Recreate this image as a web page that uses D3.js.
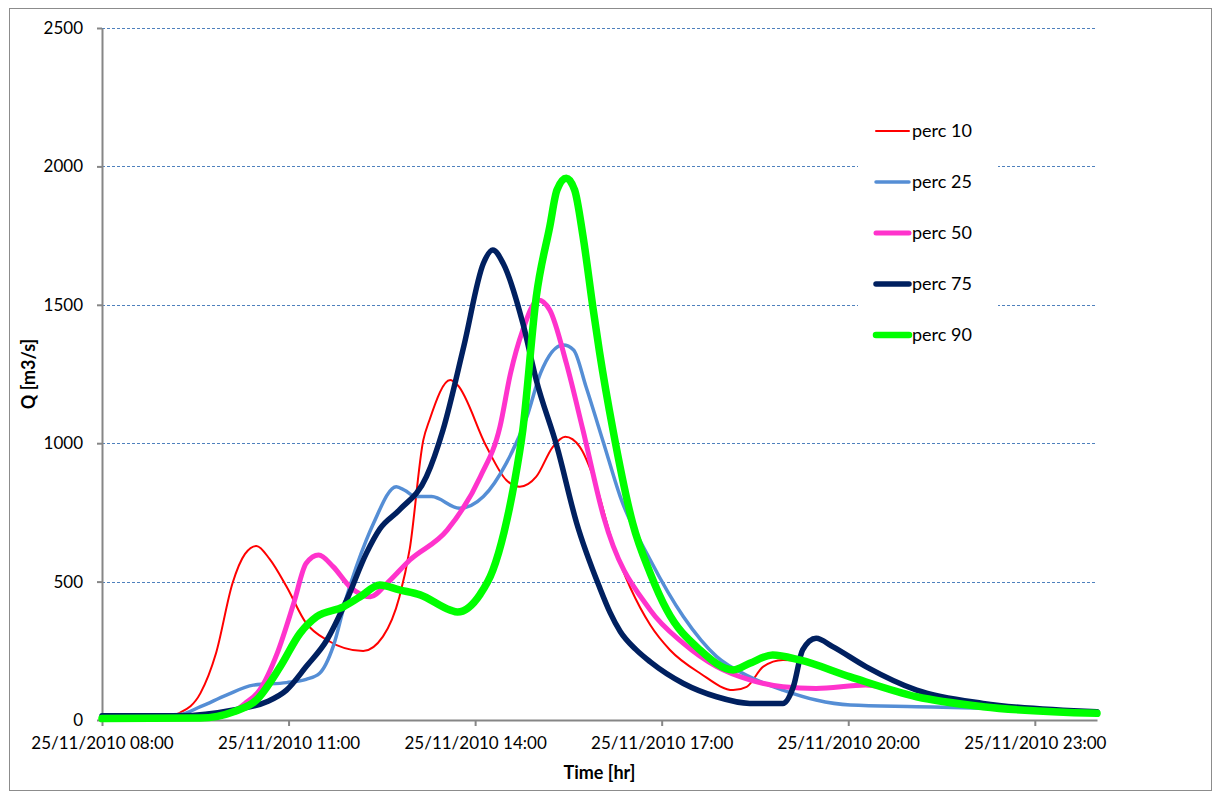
<!DOCTYPE html>
<html lang="en">

<head>
    <meta charset="UTF-8">
    <script src="https://d3js.org/d3.v7.min.js"></script>
    <title>Q percentiles</title>
    <style>
        body { margin: 0; background: #fff; }
        text { font-family: Lato, "Open Sans", sans-serif; fill: #000; }
    </style>
</head>

<body>
    <div id="viz"></div>

    <script>
        // hydrograph percentiles, 25/11/2010 (times as HH:MM)
        const seriesNames = ["perc 10", "perc 25", "perc 50", "perc 75", "perc 90"]

        const p10Times = ["08:00","09:05","09:15","09:35","09:50","10:06","10:18","10:29","10:42","10:58","11:17","11:37","12:12","12:31","12:47","12:57","13:10","13:16","13:36","13:43","14:11","14:30","14:43","14:59","15:15","15:27","15:41","15:54","16:13","16:49","17:08","17:37","18:09","18:22","18:38","18:57","19:13","20:02","21:06","22:10","24:00"]
        const p10Values = [15,15,26,97,241,495,600,629,580,482,350,289,249,301,445,620,1011,1084,1228,1210,987,867,843,879,987,1023,987,879,638,343,253,169,108,120,193,217,212,156,84,48,25]

        const p25Times = ["08:00","09:15","09:35","10:00","10:26","10:58","11:17","11:30","11:43","11:56","12:15","12:22","12:44","12:52","13:03","13:18","13:45","14:08","14:30","14:50","15:03","15:25","15:35","15:47","16:04","16:20","16:49","17:21","17:53","18:25","18:57","19:29","20:02","21:06","22:10","24:00"]
        const p25Values = [15,20,48,90,126,135,147,169,265,445,650,711,843,830,807,807,765,807,927,1096,1252,1355,1337,1204,1000,807,578,373,229,156,108,72,54,48,42,30]

        const p50Times = ["08:00","10:00","10:18","10:32","10:49","11:05","11:17","11:29","11:43","11:59","12:19","12:35","12:57","13:33","14:05","14:24","14:34","14:46","15:01","15:12","15:28","15:44","16:04","16:49","17:21","17:53","18:25","18:57","19:29","20:17","21:06","22:10","24:00"]
        const p50Values = [8,20,60,108,241,422,566,596,554,482,445,494,578,686,879,1060,1250,1409,1517,1481,1289,1048,734,397,277,193,145,120,114,126,84,48,25]

        const p75Times = ["08:00","09:15","10:07","10:39","10:58","11:17","11:37","11:56","12:15","12:28","12:47","13:13","13:29","13:49","14:08","14:17","14:27","14:46","14:59","15:19","15:38","16:00","16:10","16:20","16:35","16:49","17:21","17:53","18:25","18:57","19:07","19:16","19:29","19:45","20:17","21:06","22:10","24:00"]
        const p75Values = [15,15,36,66,108,193,289,433,602,690,759,879,1048,1349,1650,1698,1650,1434,1228,987,711,480,390,320,255,210,132,84,60,60,120,253,295,265,193,108,60,30]

        const p90Times = ["08:00","09:35","10:07","10:29","10:52","11:11","11:27","11:53","12:09","12:28","12:47","13:07","13:36","13:43","14:05","14:17","14:28","14:38","14:46","14:59","15:12","15:19","15:28","15:36","15:44","15:54","16:00","16:13","16:32","16:49","17:05","17:37","18:09","18:25","18:47","19:13","20:02","21:06","22:10","24:00"]
        const p90Values = [5,7,30,72,193,313,373,409,445,488,470,452,397,390,455,540,680,860,1048,1529,1782,1915,1957,1915,1750,1481,1330,1048,711,530,397,253,181,205,235,217,156,84,48,24]

        const yTicks = [0, 500, 1000, 1500, 2000, 2500]
        const xTicks = ["08:00", "11:00", "14:00", "17:00", "20:00", "23:00"]

        const parseT = s => {
            const [h, m] = s.split(":").map(Number)
            return new Date(2010, 10, 25, h, m)
        }

        const series = [
            {name: seriesNames[0], times: p10Times, values: p10Values, color: "#FF0000", width: 2},
            {name: seriesNames[1], times: p25Times, values: p25Values, color: "#558ED5", width: 3.5},
            {name: seriesNames[2], times: p50Times, values: p50Values, color: "#FF33CC", width: 5},
            {name: seriesNames[3], times: p75Times, values: p75Values, color: "#002060", width: 5.5},
            {name: seriesNames[4], times: p90Times, values: p90Values, color: "#00FF00", width: 7.5}
        ]
        series.forEach(s => s.points = s.times.map((t, i) => ({t: parseT(t), v: s.values[i]})))

        const width = 1216
        const height = 794
        const margin = {top: 28, left: 102, right: 119, bottom: 74}

        const svg = d3.select("#viz")
            .append("svg")
            .attr("width", width)
            .attr("height", height)

        // outer chart border
        svg.append("rect")
            .attr("x", 9.5)
            .attr("y", 8.5)
            .attr("width", 1202)
            .attr("height", 782)
            .attr("fill", "none")
            .attr("stroke", "#8c8c8c")
            .attr("stroke-width", 1)

        const xScale = d3.scaleTime()
            .domain([parseT("08:00"), parseT("24:00")])
            .range([margin.left, width - margin.right])

        const yScale = d3.scaleLinear()
            .domain([0, 2500])
            .range([height - margin.bottom, margin.top])

        // gridlines
        svg.append("g")
            .selectAll("line")
            .data(yTicks.filter(d => d > 0))
            .enter()
            .append("line")
            .attr("x1", margin.left)
            .attr("x2", width - margin.right)
            .attr("y1", d => Math.round(yScale(d)) + 0.5)
            .attr("y2", d => Math.round(yScale(d)) + 0.5)
            .attr("stroke", "#4F81BD")
            .attr("stroke-width", 1)
            .attr("stroke-dasharray", "3,2")

        // axes
        const xAxis = svg.append("g")
            .attr("transform", `translate(0,${height - margin.bottom})`)
            .call(d3.axisBottom(xScale)
                .tickValues(xTicks.map(parseT))
                .tickFormat(d3.timeFormat("%d/%m/%Y %H:%M"))
                .tickSize(6)
                .tickSizeOuter(0))
        const yAxis = svg.append("g")
            .attr("transform", `translate(${margin.left},0)`)
            .call(d3.axisLeft(yScale)
                .tickValues(yTicks)
                .tickFormat(d3.format("d"))
                .tickSize(5)
                .tickSizeOuter(0))

        svg.selectAll(".domain, .tick line")
            .attr("stroke", "#868686")
            .attr("stroke-width", 2)
        svg.selectAll(".tick text")
            .style("font-size", "17px")
            .attr("fill", "#000")
        xAxis.selectAll(".tick text").attr("dy", "1.2em")
        yAxis.selectAll(".tick text").attr("x", -19)

        // axis titles
        svg.append("text")
            .attr("x", (margin.left + width - margin.right) / 2)
            .attr("y", 779)
            .attr("text-anchor", "middle")
            .style("font-size", "18px")
            .style("font-weight", "bold")
            .text("Time [hr]")
        svg.append("text")
            .attr("transform", `translate(35,${(margin.top + height - margin.bottom) / 2}) rotate(-90)`)
            .attr("text-anchor", "middle")
            .style("font-size", "18px")
            .style("font-weight", "bold")
            .text("Q [m3/s]")

        // lines
        const lineGen = d3.line()
            .x(d => xScale(d.t))
            .y(d => yScale(d.v))
            .curve(d3.curveMonotoneX)

        svg.selectAll(".series")
            .data(series)
            .enter()
            .append("path")
            .attr("class", "series")
            .attr("d", d => lineGen(d.points))
            .attr("fill", "none")
            .attr("stroke", d => d.color)
            .attr("stroke-width", d => d.width)
            .attr("stroke-linejoin", "round")
            .attr("stroke-linecap", "round")

        // legend
        const legend = svg.append("g")
        legend.append("rect")
            .attr("x", 858)
            .attr("y", 105)
            .attr("width", 140)
            .attr("height", 255)
            .attr("fill", "#fff")
        const items = legend.selectAll(".item")
            .data(series)
            .enter()
            .append("g")
            .attr("transform", (d, i) => `translate(0,${131 + i * 51})`)
        items.append("line")
            .attr("x1", 876)
            .attr("x2", 909)
            .attr("stroke", d => d.color)
            .attr("stroke-width", d => Math.min(d.width, 6.5))
            .attr("stroke-linecap", "round")
        items.append("text")
            .attr("x", 912)
            .attr("dy", "0.35em")
            .style("font-size", "18px")
            .text(d => d.name)
    </script>
</body>

</html>
